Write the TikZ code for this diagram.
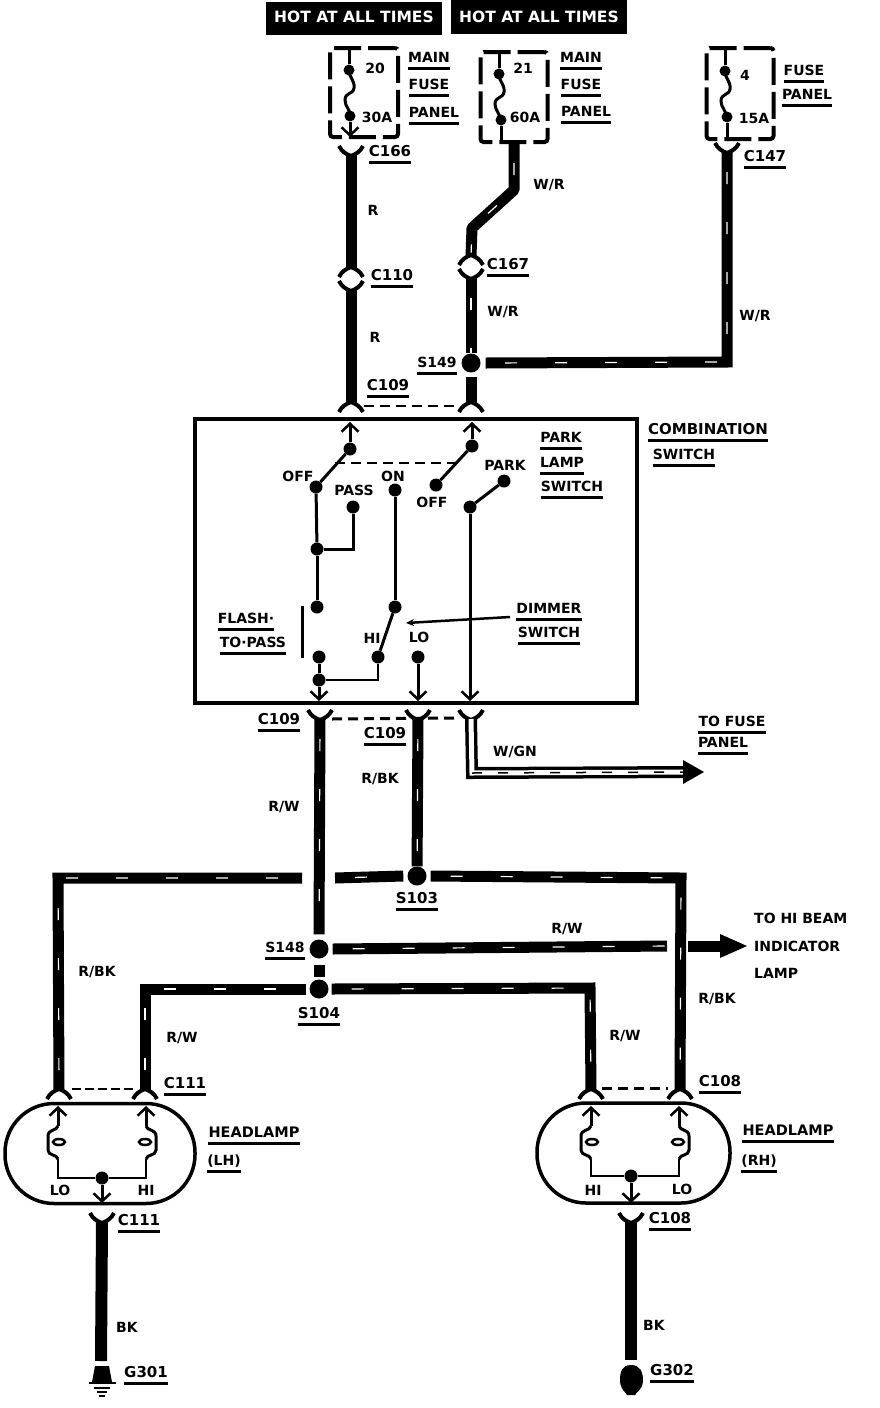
\documentclass[tikz,border=0pt]{standalone}
\usepackage{fontspec}
\setmainfont{DejaVu Sans}
\usetikzlibrary{arrows.meta, positioning}

\begin{document}
\begin{tikzpicture}[
        x=1pt, y=-1pt,
        every node/.style={font=\bfseries\fontsize{14}{14}\selectfont, inner sep=0pt, text height=10pt, text depth=0pt},
        big/.style={font=\bfseries\fontsize{15}{15}\selectfont},
        hotbox/.style={
            rectangle,
            fill=black,
            text=white,
            font=\bfseries\fontsize{15.5}{15.5}\selectfont,
            minimum width=176pt,
            minimum height=33pt
        },
        fusebox/.style={
            rectangle,
            draw=black,
            line width=4pt,
            rounded corners=3pt,
            dash pattern=on 27pt off 7pt
        },
        switchbox/.style={
            rectangle,
            draw=black,
            line width=4.5pt,
            minimum width=442pt,
            minimum height=284pt
        },
        lamp/.style={
            rectangle,
            draw=black,
            line width=3.5pt,
            rounded corners=49pt,
            minimum height=100pt
        },
        terminal/.style={circle, fill=black, minimum size=13pt, text height=0pt},
        fuseend/.style={circle, fill=black, minimum size=11pt, text height=0pt},
        splice/.style={circle, fill=black, minimum size=19pt, text height=0pt},
        ulabel/.style={
            append after command={
                ([yshift=-6pt]\tikzlastnode.south west) edge[line width=3pt, solid]
                ([yshift=-6pt]\tikzlastnode.south east)
            }
        },
        wire/.style={line width=11pt},
        tracer/.style={
            wire,
            postaction={draw=white, line width=1.2pt, dash pattern=on 12pt off 38pt, dash phase=30pt}
        },
        thin wire/.style={line width=3pt},
        wire tip/.style={thin wire, -{Straight Barb[length=8pt, width=17pt, line width=2.5pt]}},
        link/.style={line width=2.5pt, dash pattern=on 10pt off 6pt},
        forkup/.pic={
            \draw[line width=4pt] (-12,-9) .. controls (-9,-3) and (-5,-1) .. (0,1)
                .. controls (5,-1) and (9,-3) .. (12,-9);
        },
        forkdown/.pic={
            \draw[line width=4pt] (-12,9) .. controls (-9,3) and (-5,1) .. (0,-1)
                .. controls (5,1) and (9,3) .. (12,9);
        },
        fuselink/.pic={
            \draw[thin wire] (0,0) .. controls (0,8) and (6,10) .. (5,18)
                .. controls (4,25) and (-4,22) .. (-4,30)
                .. controls (-4,37) and (1,38) .. (1,46);
        },
        bulb/.pic={
            \draw[thin wire] (0,0) .. controls (-1,5) and (-10,3) .. (-10,10) -- (-10,24)
                .. controls (-10,30) and (-1,28) .. (0,33);
            \draw[line width=2.5pt] (1,16) ellipse (6 and 3);
        }
    ]

    \path[use as bounding box, fill=white] (0,0) rectangle (880,1408);

    % Power feeds
    \node (hotleft) [hotbox] at (354,18) {HOT AT ALL TIMES};
    \node (hotright) [hotbox] at (539,17) {HOT AT ALL TIMES};

    % Fuses
    \node (fusetwenty) [fusebox, minimum width=68pt, minimum height=89pt] at (364,92.5) {};
    \node (fusetwentyone) [fusebox, minimum width=67pt, minimum height=90pt] at (514,97) {};
    \node (fusefour) [fusebox, minimum width=67pt, minimum height=91pt] at (740,93.5) {};
    \node (fa) [fuseend] at (349,70) {};
    \node (fb) [fuseend] at (350,116) {};
    \node (fc) [fuseend] at (499,74) {};
    \node (fd) [fuseend] at (501,120) {};
    \node (fe) [fuseend] at (725,71) {};
    \node (ff) [fuseend] at (727,117) {};
    \pic at (fa) {fuselink};
    \pic at (fc) {fuselink};
    \pic at (fe) {fuselink};
    \draw[thin wire] (fa) -- (349,49);
    \draw[wire tip] (fb) -- (350,137);
    \draw[thin wire] (fc) -- (499,53);
    \draw[thin wire] (fd) -- (501,142);
    \draw[thin wire] (fe) -- (725,49);
    \draw[thin wire] (ff) -- (727,139);

    % Fuse labels
    \node (twenty) at (375,68) {20};
    \node (thirtya) at (377,117) {30A};
    \node (twentyone) at (523,68) {21};
    \node (sixtya) at (525,117) {60A};
    \node (four) at (745,75) {4};
    \node (fifteena) at (754,118) {15A};
    \node (maina) [ulabel] at (429,57) {MAIN};
    \node (fusea) [ulabel] at (429,84) {FUSE};
    \node (panela) [ulabel] at (434,112) {PANEL};
    \node (mainb) [ulabel] at (581,57) {MAIN};
    \node (fuseb) [ulabel] at (581,84) {FUSE};
    \node (panelb) [ulabel] at (586,111) {PANEL};
    \node (fusec) [ulabel] at (804,70) {FUSE};
    \node (panelc) [ulabel] at (807,94) {PANEL};

    % Upper harness
    \node (sonefourtynine) [splice] at (471,363) {};
    \coordinate (cathree) at (351,155);
    \coordinate (cbthree) at (351,268);
    \coordinate (cbfour) at (351,290);
    \coordinate (cnineleft) at (351,403);
    \coordinate (cnineright) at (471,403);
    \coordinate (fusetwoout) at (514,143);
    \coordinate (bendone) at (514,190);
    \coordinate (bendtwo) at (472,228);
    \coordinate (csevena) at (471,256);
    \coordinate (csevenb) at (471,278);
    \coordinate (cfourseven) at (727,152);
    \coordinate (crnr) at (727,362);
    \draw[wire] (cathree) -- (cbthree);
    \draw[wire] (cbfour) -- (cnineleft);
    \draw[tracer, line join=bevel] (fusetwoout) -- (bendone) -- (bendtwo) -- (csevena);
    \draw[tracer] (csevenb) -- (sonefourtynine);
    \draw[wire, shorten <=4pt] (sonefourtynine) -- (cnineright);
    \draw[tracer, line join=miter] (cfourseven) -- (crnr) -- ([xshift=5pt]sonefourtynine.east);
    \pic at (cathree) {forkup};
    \pic at (cbthree) {forkdown};
    \pic at (cbfour) {forkup};
    \pic at (cnineleft) {forkdown};
    \pic at (cnineright) {forkdown};
    \pic at (csevena) {forkdown};
    \pic at (csevenb) {forkup};
    \pic at (cfourseven) {forkup};
    \draw[link] (cnineleft) ++(13,3) -- ([shift={(-11,3)}]cnineright);

    \node (conesixsix) [ulabel, big] at (390,151) {C166};
    \node (conetenlbl) [ulabel, big] at (392,275) {C110};
    \node (rupper) at (373,210) {R};
    \node (rlower) at (375,337) {R};
    \node (wra) at (549,184) {W/R};
    \node (conesevenlbl) [ulabel, big] at (508,264) {C167};
    \node (wrb) at (503,311) {W/R};
    \node (wrc) at (755,315) {W/R};
    \node (conefoursevenlbl) [ulabel, big] at (765,156) {C147};
    \node (sonefourninelbl) [ulabel] at (437,362) {S149};
    \node (conenineuplbl) [ulabel, big] at (388,385) {C109};

    % Combination switch
    \node (combo) [switchbox] at (416,561) {};
    \node (combolbl) [ulabel, big] at (708,429) {COMBINATION};
    \node (switchlbl) [ulabel] at (684,454) {SWITCH};
    \node (parkword) [ulabel] at (561,437) {PARK};
    \node (lampword) [ulabel] at (562,462) {LAMP};
    \node (switchword) [ulabel] at (572,486) {SWITCH};
    \node (flashword) [ulabel] at (246,618) {FLASH·};
    \node (password) [ulabel] at (253,642) {TO·PASS};
    \node (dimmerword) [ulabel] at (549,608) {DIMMER};
    \node (dimswitchword) [ulabel] at (549,632) {SWITCH};
    \node (offa) at (298,476) {OFF};
    \node (offb) at (432,502) {OFF};
    \node (passlbl) at (354,490) {PASS};
    \node (onlbl) at (393,476) {ON};
    \node (parklbl) at (505,465) {PARK};
    \node (hilbl) at (372,638) {HI};
    \node (lolbl) at (419,637) {LO};

    \node (ta) [terminal] at (350,449) {};
    \node (tb) [terminal] at (316,487) {};
    \node (tc) [terminal] at (472,446) {};
    \node (td) [terminal] at (436,485) {};
    \node (te) [terminal] at (353,507) {};
    \node (tf) [terminal] at (395,490) {};
    \node (tg) [terminal] at (504,481) {};
    \node (th) [terminal] at (470,507) {};
    \node (ti) [terminal] at (317,549) {};
    \node (tj) [terminal] at (317,607) {};
    \node (tk) [terminal] at (395,607) {};
    \node (tl) [terminal] at (378,657) {};
    \node (tm) [terminal] at (319,657) {};
    \node (tn) [terminal] at (319,680) {};
    \node (to) [terminal] at (418,657) {};

    \coordinate (topleft) at (350,422);
    \coordinate (topright) at (472,422);
    \coordinate (outa) at (319,701);
    \coordinate (outb) at (418,701);
    \coordinate (outc) at (470,701);
    \coordinate (dimend) at (510,617);
    \coordinate (dimtip) at (406,623);
    \coordinate (flasha) at (302,606);
    \coordinate (flashb) at (302,658);

    \draw[wire tip] (ta) -- (topleft);
    \draw[wire tip] (tc) -- (topright);
    \draw[thin wire] (ta) -- (tb);
    \draw[thin wire] (tc) -- (td);
    \draw[thin wire] (tg) -- (th);
    \draw[thin wire] (tb) -- (ti);
    \draw[thin wire] (ti) -- (tj);
    \draw[thin wire] (ti) -| (te);
    \draw[thin wire] (tf) -- (tk);
    \draw[thin wire] (tk) -- (tl);
    \draw[thin wire] (tm) -- (tn);
    \draw[line width=2pt] (tn) -| (tl);
    \draw[wire tip] (tn) -- (outa);
    \draw[wire tip] (to) -- (outb);
    \draw[wire tip] (th) -- (outc);
    \draw[link] (335,463) -- (458,463);
    \draw[line width=3pt] (flasha) -- (flashb);
    \draw[line width=2.5pt, -{Stealth[length=8pt, width=7pt]}] (dimend) -- (dimtip);

    % Harness below the switch
    \node (sonezerothree) [splice] at (417,876) {};
    \node (sonefoureight) [splice] at (319,949) {};
    \node (sonezerofour) [splice] at (319,989) {};

    \coordinate (cninea) at (320,719);
    \coordinate (cnineb) at (418,719);
    \coordinate (cninec) at (471,719);
    \draw[tracer] (cninea) -- ([yshift=5pt]sonefoureight.north);
    \draw[tracer] (cnineb) -- (sonezerothree);
    \draw[wire] ([yshift=-6pt]sonefoureight.south) -- ([yshift=2pt]sonezerofour.north);
    \pic at (cninea) {forkup};
    \pic at (cnineb) {forkup};
    \pic at (cninec) {forkup};
    \draw[link, line width=3pt] (332,719) -- (459,718);

    % Wire to the fuse panel
    \coordinate (wgnbend) at (472,773);
    \coordinate (wgnend) at (690,772);
    \draw[line width=3.5pt, double=white, double distance=5pt, line join=miter] (cninec) -- (wgnbend) -- (wgnend);
    \draw[line width=1.5pt, dash pattern=on 10pt off 16pt] (wgnbend) -- (wgnend);
    \fill (683,760) -- (704,772) -- (683,784) -- cycle;

    % Headlamp feeds
    \coordinate (cleftlo) at (59,1090);
    \coordinate (clefthi) at (145,1090);
    \coordinate (crighthi) at (591,1090);
    \coordinate (crightlo) at (680,1090);
    \coordinate (rbkleft) at (58,878);
    \coordinate (rbkgapa) at (302,878);
    \coordinate (rbkgapb) at (335,878);
    \coordinate (rbkright) at (681,878);
    \coordinate (rwleft) at (145,989);
    \coordinate (rwright) at (590,988);
    \coordinate (rwgapa) at (667,946);
    \coordinate (rwgapb) at (688,946);
    \coordinate (hibeamtip) at (747,946);
    \draw[tracer, line join=miter] (cleftlo) -- (rbkleft) -- (rbkgapa);
    \draw[tracer] (rbkgapb) -- ([xshift=-4pt]sonezerothree.west);
    \draw[tracer, line join=miter] ([xshift=4pt]sonezerothree.east) -- (rbkright) -- (crightlo);
    \draw[tracer] ([xshift=4pt]sonefoureight.east) -- (rwgapa);
    \draw[wire] (rwgapb) -- (724,946);
    \fill (720,934) -- (hibeamtip) -- (720,958) -- cycle;
    \draw[tracer, line join=miter] (clefthi) -- (rwleft) -- ([xshift=-3pt]sonezerofour.west);
    \draw[tracer, line join=miter] ([xshift=3pt]sonezerofour.east) -- (rwright) -- (crighthi);
    \pic at (cleftlo) {forkdown};
    \pic at (clefthi) {forkdown};
    \pic at (crighthi) {forkdown};
    \pic at (crightlo) {forkdown};
    \draw[line width=2pt, dash pattern=on 9pt off 4pt] (72,1089) -- (133,1089);
    \draw[link, line width=3pt] (602,1088) -- (668,1088);

    \node (coneninea) [ulabel, big] at (279,719) {C109};
    \node (conenineb) [ulabel, big] at (385,733) {C109};
    \node (rbka) at (380,778) {R/BK};
    \node (rwa) at (284,806) {R/W};
    \node (wgnlbl) at (515,751) {W/GN};
    \node (tofuse) [ulabel] at (732,721) {TO FUSE};
    \node (topanel) [ulabel] at (723,742) {PANEL};
    \node (sonezerothreelbl) [ulabel, big] at (417,898) {S103};
    \node (sonefoureightlbl) [ulabel] at (285,947) {S148};
    \node (sonezerofourlbl) [ulabel, big] at (319,1013) {S104};
    \node (rwb) at (567,928) {R/W};
    \node (hibeam) [anchor=west] at (754,918) {TO HI BEAM};
    \node (indicator) [anchor=west] at (754,946) {INDICATOR};
    \node (lampb) [anchor=west] at (754,973) {LAMP};
    \node (rbkb) at (97,971) {R/BK};
    \node (rwc) at (182,1037) {R/W};
    \node (rwd) at (625,1035) {R/W};
    \node (rbkc) at (717,998) {R/BK};

    % Headlamp LH
    \node (lamplh) [lamp, minimum width=190pt] at (100,1153.5) {};
    \node (lhdot) [terminal] at (102,1178) {};
    \coordinate (lhlo) at (58,1106);
    \coordinate (lhhi) at (146,1106);
    \coordinate (lhloa) at (58,1126);
    \coordinate (lhhia) at (146,1126);
    \coordinate (lhlob) at (58,1159);
    \coordinate (lhhib) at (146,1159);
    \coordinate (lhgnd) at (102,1203);
    \draw[wire tip] (lhloa) -- (lhlo);
    \draw[wire tip] (lhhia) -- (lhhi);
    \pic at (lhloa) {bulb};
    \pic[xscale=-1] at (lhhia) {bulb};
    \draw[line width=2.5pt] (lhlob) |- (lhdot) -| (lhhib);
    \draw[wire tip] (lhdot) -- (lhgnd);
    \node (lhlolbl) at (60,1190) {LO};
    \node (lhhilbl) at (146,1190) {HI};
    \node (conelevena) [ulabel, big] at (185,1083) {C111};
    \node (conelevenb) [ulabel, big] at (139,1220) {C111};
    \node (headlh) [ulabel, font=\bfseries\fontsize{14.5}{14.5}\selectfont] at (254,1132) {HEADLAMP};
    \node (lhlbl) [ulabel] at (224,1160) {(LH)};

    % Headlamp RH
    \node (lamprh) [lamp, minimum width=193pt] at (633.5,1153) {};
    \node (rhdot) [terminal] at (631,1176) {};
    \coordinate (rhhi) at (591,1106);
    \coordinate (rhlo) at (679,1106);
    \coordinate (rhhia) at (591,1126);
    \coordinate (rhloa) at (679,1126);
    \coordinate (rhhib) at (591,1159);
    \coordinate (rhlob) at (679,1159);
    \coordinate (rhgnd) at (631,1203);
    \draw[wire tip] (rhhia) -- (rhhi);
    \draw[wire tip] (rhloa) -- (rhlo);
    \pic at (rhhia) {bulb};
    \pic[xscale=-1] at (rhloa) {bulb};
    \draw[line width=2.5pt] (rhhib) |- (rhdot) -| (rhlob);
    \draw[wire tip] (rhdot) -- (rhgnd);
    \node (rhhilbl) at (593,1190) {HI};
    \node (rhlolbl) at (682,1189) {LO};
    \node (coneeighta) [ulabel, big] at (720,1081) {C108};
    \node (coneeightb) [ulabel, big] at (670,1218) {C108};
    \node (headrh) [ulabel, font=\bfseries\fontsize{14.5}{14.5}\selectfont] at (788,1130) {HEADLAMP};
    \node (rhlbl) [ulabel] at (759,1160) {(RH)};

    % Grounds
    \coordinate (cbkleft) at (102,1222);
    \coordinate (cbkright) at (631,1222);
    \draw[wire, line width=12pt] (cbkleft) -- (101,1361);
    \draw[wire, line width=12pt] (cbkright) -- (631,1360);
    \pic at (cbkleft) {forkup};
    \pic at (cbkright) {forkup};
    \fill (95,1366) -- (109,1366) -- (112,1382) -- (92,1382) -- cycle;
    \draw[line width=2.5pt] (89,1383) -- (116,1383);
    \draw[line width=2.5pt] (94,1388) -- (110,1388);
    \draw[line width=2.5pt] (97,1392) -- (107,1392);
    \draw[line width=2.5pt] (99,1396) -- (105,1396);
    \fill (631,1365) .. controls (640,1365) and (643,1372) .. (643,1380)
        .. controls (643,1390) and (636,1392) .. (635,1395) -- (627,1395)
        .. controls (626,1392) and (620,1390) .. (620,1380)
        .. controls (620,1372) and (622,1365) .. (631,1365);
    \node (bkleft) at (127,1327) {BK};
    \node (bkright) at (654,1325) {BK};
    \node (gthreeone) [ulabel, big] at (146,1372) {G301};
    \node (gthreetwo) [ulabel, big] at (672,1370) {G302};

\end{tikzpicture}
\end{document}
